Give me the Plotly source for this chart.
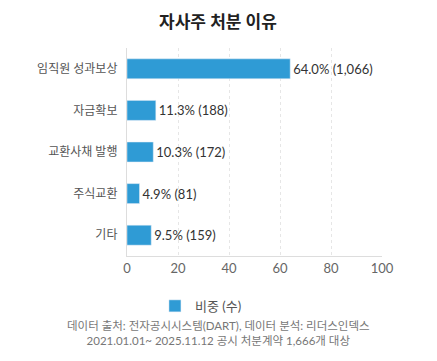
import plotly.graph_objects as go

categories = ["임직원 성과보상", "자금확보", "교환사채 발행", "주식교환", "기타"]
shares = [64.0, 11.3, 10.3, 4.9, 9.5]
counts = [1066, 188, 172, 81, 159]
tick_vals = [0, 20, 40, 60, 80, 100]

labels = [f"{s:.1f}% ({c:,})" for s, c in zip(shares, counts)]
FONT = "Lato, 'Noto Sans CJK KR', sans-serif"

fig = go.Figure()
fig.add_trace(go.Bar(
    y=categories, x=shares, orientation="h",
    name="비중 (수)",
    marker=dict(color="#2f9bd5"),
    width=0.48,
    text=labels, textposition="outside",
    textfont=dict(size=13, color="#333333", family=FONT),
    cliponaxis=False,
))
fig.update_layout(
    width=437, height=361,
    margin=dict(l=119, r=63, t=40, b=113, autoexpand=False),
    paper_bgcolor="white", plot_bgcolor="white",
    font=dict(family=FONT, color="#555555"),
    title=dict(text="<b>자사주 처분 이유</b>", x=0.4805, xanchor="center", y=0.96, yanchor="middle",
               font=dict(size=17, color="#222222", family=FONT)),
    showlegend=True,
    legend=dict(orientation="h", x=0.29, xanchor="center", y=-0.24, yanchor="middle",
                font=dict(size=13, color="#555555", family=FONT), itemwidth=30),
)
fig.update_xaxes(range=[0, 100], tickvals=tick_vals, showgrid=True, gridcolor="#e6e6e6",
                 griddash="dot", showline=True, linecolor="#dddddd", zeroline=False,
                 tickfont=dict(size=13, color="#666666"), ticks="", ticklen=0, automargin=False)
fig.update_yaxes(categoryorder="array", categoryarray=categories[::-1], autorange=True,
                 showline=True, linecolor="#dddddd", tickfont=dict(size=12, color="#555555"),
                 ticks="", ticksuffix="  ", automargin=False)
fig.add_annotation(text="데이터 출처: 전자공시시스템(DART), 데이터 분석: 리더스인덱스<br>2021.01.01~ 2025.11.12 공시 처분계약 1,666개 대상",
                   xref="paper", yref="paper", x=0.357, y=-0.372, xanchor="center", yanchor="middle",
                   showarrow=False, font=dict(size=11.5, color="#777777", family=FONT), align="center")
fig.write_html("out.html")
